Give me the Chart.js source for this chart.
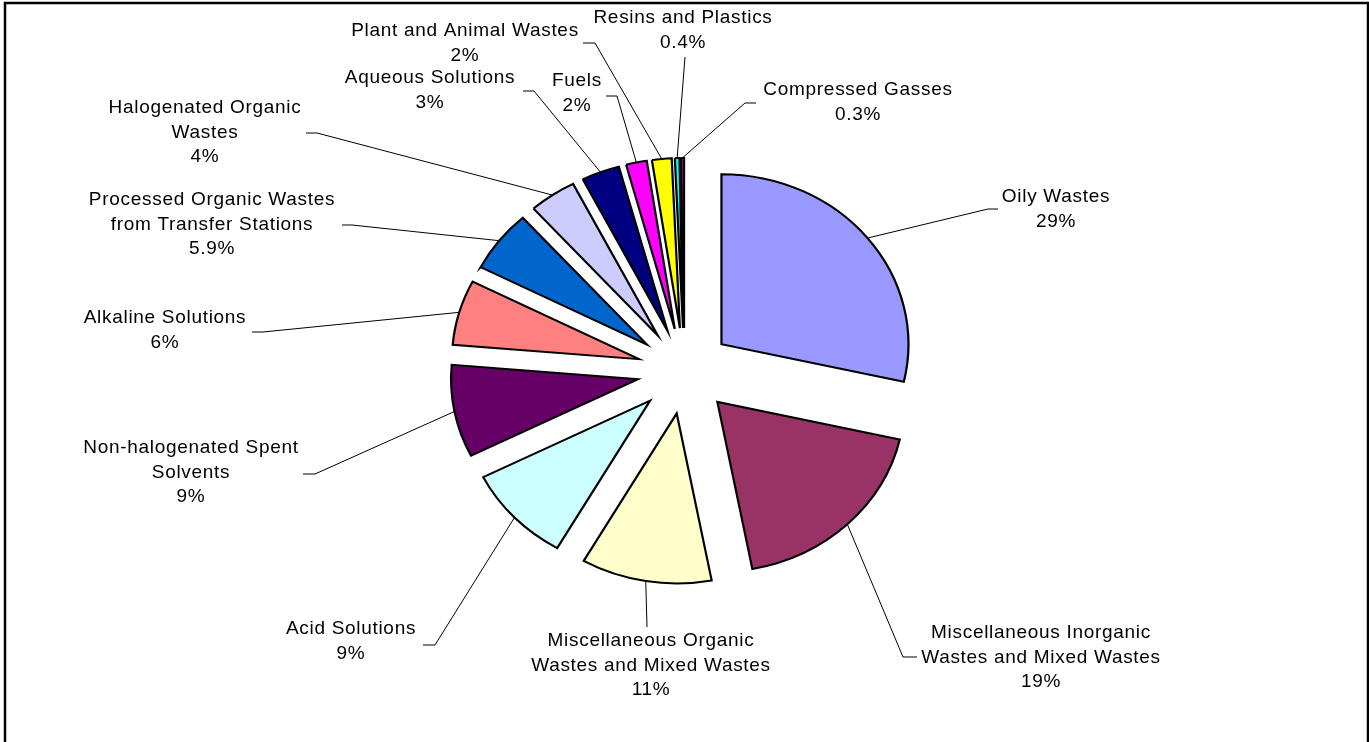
<!DOCTYPE html>
<html>
<head>
<meta charset="utf-8">
<script src="https://cdn.jsdelivr.net/npm/chart.js@4"></script>
<style>
  html, body { margin: 0; padding: 0; background: #fff; }
  #wrap { width: 1369px; height: 742px; }
</style>
</head>
<body>
<div id="wrap"><canvas id="wasteChart" width="1369" height="742"></canvas></div>
<script>
// Waste categories, clockwise from 12 o'clock
const categories = [
    'Oily Wastes',
    'Miscellaneous Inorganic\nWastes and Mixed Wastes',
    'Miscellaneous Organic\nWastes and Mixed Wastes',
    'Acid Solutions',
    'Non-halogenated Spent\nSolvents',
    'Alkaline Solutions',
    'Processed Organic Wastes\nfrom Transfer Stations',
    'Halogenated Organic\nWastes',
    'Aqueous Solutions',
    'Fuels',
    'Plant and Animal Wastes',
    'Resins and Plastics',
    'Compressed Gasses'
];
const shares = [28.6, 18.5, 11.3, 9.3, 8.8, 6.2, 5.9, 4.1, 3.3, 1.8, 1.7, 0.4, 0.3];
const shareLabels = ['29%', '19%', '11%', '9%', '9%', '6%', '5.9%', '4%', '3%', '2%', '2%', '0.4%', '0.3%'];
const sliceColors = [
    '#9999FF', '#993366', '#FFFFCC', '#CCFFFF', '#660066', '#FF8080', '#0066CC',
    '#CCCCFF', '#000080', '#FF00FF', '#FFFF00', '#00FFFF', '#800080'
];

// Label placement: text centre x, first line y, leader knee and leader end
const labelLayout = [
    { x: 1056, y: 197, knee: [988, 209], end: [998, 209] },
    { x: 1041, y: 633, knee: [903, 657], end: [917, 657] },
    { x: 651, y: 641, knee: [647, 627], end: [647, 627] },
    { x: 351, y: 629, knee: [435, 645], end: [423, 645] },
    { x: 191, y: 448, knee: [315, 474], end: [303, 474] },
    { x: 165, y: 318, knee: [263, 332], end: [252, 332] },
    { x: 212, y: 200, knee: [352, 225], end: [342, 225] },
    { x: 205, y: 108, knee: [317, 133], end: [306, 133] },
    { x: 430, y: 78, knee: [534, 91], end: [523, 91] },
    { x: 577, y: 81, knee: [617, 96], end: [606, 96] },
    { x: 465, y: 31, knee: [595, 43], end: [583, 43] },
    { x: 683, y: 18, knee: [685, 57], end: [685, 57] },
    { x: 858, y: 90, knee: [745, 103], end: [756, 103] }
];

const STRETCH = 1.1;   // original pie is a bit wider than tall
const EXPLODE = 43;    // every slice pulled out by the same amount
const LINE_H = 24.5;

// draw the library's arcs ourselves, pulled out and stretched
const explodedPie = {
    id: 'explodedPie',
    beforeDatasetsDraw(chart) {
        const ctx = chart.ctx;
        const meta = chart.getDatasetMeta(0);
        meta.data.forEach(arc => {
            const mid = (arc.startAngle + arc.endAngle) / 2;
            ctx.save();
            ctx.translate(arc.x, arc.y);
            ctx.scale(STRETCH, 1);
            ctx.translate(-arc.x, -arc.y);
            ctx.translate(Math.cos(mid) * EXPLODE, Math.sin(mid) * EXPLODE);
            arc.draw(ctx);
            ctx.restore();
        });
        return false;
    }
};

// leader lines, data labels and the outer frame
const sliceLabels = {
    id: 'sliceLabels',
    afterDraw(chart) {
        const ctx = chart.ctx;
        const meta = chart.getDatasetMeta(0);
        ctx.save();
        meta.data.forEach((arc, i) => {
            const mid = (arc.startAngle + arc.endAngle) / 2;
            const r = arc.outerRadius + EXPLODE;
            const ax = arc.x + Math.cos(mid) * r * STRETCH;
            const ay = arc.y + Math.sin(mid) * r;
            const lay = labelLayout[i];

            ctx.strokeStyle = '#000';
            ctx.lineWidth = 1;
            ctx.beginPath();
            ctx.moveTo(ax, ay);
            ctx.lineTo(lay.knee[0], lay.knee[1]);
            ctx.lineTo(lay.end[0], lay.end[1]);
            ctx.stroke();

            const lines = categories[i].split('\n').concat(shareLabels[i]);
            ctx.fillStyle = '#000';
            ctx.font = '19px "Liberation Sans", Arial, sans-serif';
            ctx.letterSpacing = '0.7px';
            ctx.textAlign = 'center';
            ctx.textBaseline = 'middle';
            lines.forEach((t, k) => ctx.fillText(t, lay.x, lay.y + k * LINE_H));
        });

        ctx.strokeStyle = '#000';
        ctx.lineWidth = 2.5;
        ctx.strokeRect(5, 3, 1363, 800);
        ctx.restore();
    }
};

const ctx = document.getElementById('wasteChart').getContext('2d');
new Chart(ctx, {
    type: 'pie',
    data: {
        labels: categories,
        datasets: [{
            data: shares,
            backgroundColor: sliceColors,
            borderColor: '#000000',
            borderWidth: 2,
            borderJoinStyle: 'miter',
            offset: 0,
            radius: 170
        }]
    },
    options: {
        responsive: false,
        animation: false,
        events: [],
        layout: { padding: 0 },
        plugins: {
            legend: { display: false },
            tooltip: { enabled: false }
        }
    },
    plugins: [explodedPie, sliceLabels]
});
</script>
</body>
</html>
